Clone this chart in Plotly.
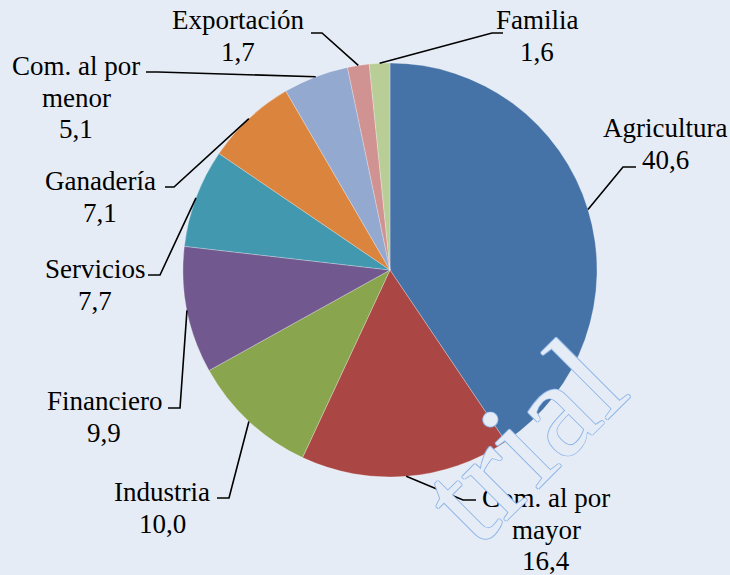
import math
import plotly.graph_objects as go

# ---- data ----
categories = ["Agricultura", "Com. al por mayor", "Industria", "Financiero", "Servicios",
              "Ganadería", "Com. al por menor", "Exportación", "Familia"]
values = [40.6, 16.4, 10.0, 9.9, 7.7, 7.1, 5.1, 1.7, 1.6]
label_lines = [["Agricultura"], ["Com. al por", "mayor"], ["Industria"], ["Financiero"],
               ["Servicios"], ["Ganadería"], ["Com. al por", "menor"], ["Exportación"], ["Familia"]]
colors = ["#4572A7", "#AA4643", "#89A54E", "#71588F", "#4198AF",
          "#DB843D", "#93A9CF", "#D19392", "#B9CD96"]

# ---- layout (pixels) ----
W, H = 730, 575
CX, CY, R = 390, 270, 207
BG = "#E6ECF5"
FONT = "Liberation Serif, Times New Roman, DejaVu Serif, serif"
FS = 27
LINE_STEP = 31.5
# label block: (center x, first line y), elbow point, horizontal end point
label_pos = [(665, 128), (546, 498), (162, 492), (104, 401), (95, 269),
             (100, 181), (76, 66), (238, 20), (537, 20)]
elbows = [(623, 167), (463, 500), (229, 498), (180, 408), (160, 275),
          (174, 187), (158, 72), (322, 33), (492, 33)]
ends = [(636, 167), (476, 500), (217, 498), (168, 408), (148, 275),
        (165, 187), (146, 72), (311, 33), (503, 33)]


def px(x):
    return x / W


def py(y):
    return 1 - y / H


fig = go.Figure(go.Pie(
    labels=categories, values=values, sort=False, direction="clockwise", rotation=0,
    marker=dict(colors=colors, line=dict(color="rgba(255,255,255,0.45)", width=0.6)),
    textinfo="none", hoverinfo="label+value", showlegend=False,
    domain=dict(x=[px(CX - R), px(CX + R)], y=[py(CY + R), py(CY - R)]),
))

total = sum(values)
shapes = []
annotations = []
cum = 0.0
for i, v in enumerate(values):
    mid = (cum + v / 2) / total * 2 * math.pi
    cum += v
    sx = CX + R * math.sin(mid)
    sy = CY - R * math.cos(mid)
    ex, ey = elbows[i]
    hx, hy = ends[i]
    path = f"M {px(sx)},{py(sy)} L {px(ex)},{py(ey)} L {px(hx)},{py(hy)}"
    shapes.append(dict(type="path", xref="paper", yref="paper", path=path,
                       line=dict(color="black", width=1.6)))
    lx, ly = label_pos[i]
    lines = label_lines[i] + [f"{v:.1f}".replace(".", ",")]
    for j, t in enumerate(lines):
        annotations.append(dict(
            x=px(lx), y=py(ly + j * LINE_STEP), xref="paper", yref="paper",
            text=t, showarrow=False, xanchor="center", yanchor="middle",
            font=dict(family=FONT, size=FS, color="black")))

# watermark
annotations.append(dict(
    x=px(522), y=py(440), xref="paper", yref="paper", text="trial", showarrow=False,
    textangle=-45, xanchor="center", yanchor="middle",
    font=dict(family=FONT, size=136, color=BG,
              shadow="1px 0 #8DB6EA, -1px 0 #8DB6EA, 0 1px #8DB6EA, 0 -1px #8DB6EA")))

fig.update_layout(
    width=W, height=H, margin=dict(l=0, r=0, t=0, b=0),
    paper_bgcolor=BG, plot_bgcolor=BG,
    shapes=shapes, annotations=annotations,
)

fig.write_html("out.html", config={"displayModeBar": False},
               post_script="document.body.style.margin='0';")
